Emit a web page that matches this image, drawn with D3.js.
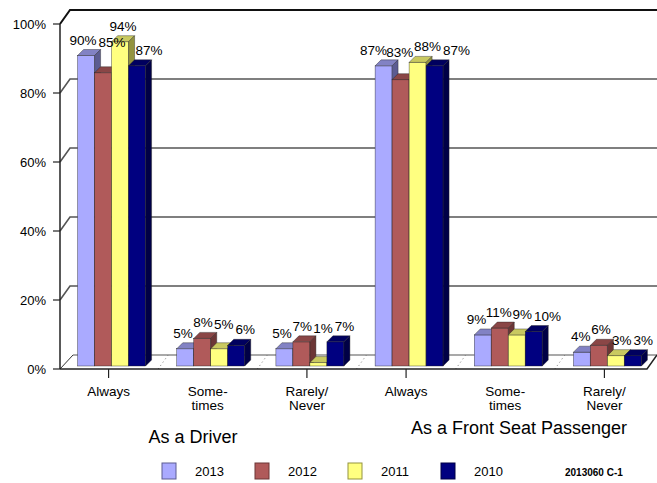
<!DOCTYPE html>
<html>
<head>
<meta charset="utf-8">
<script src="https://cdn.jsdelivr.net/npm/d3@7"></script>
<style>
body { margin: 0; background: #fff; }
text { font-family: "Liberation Sans", Arial, sans-serif; fill: #000; }
</style>
</head>
<body>
<script>
// data
var categories = [["Always"], ["Some-", "times"], ["Rarely/", "Never"],
                  ["Always"], ["Some-", "times"], ["Rarely/", "Never"]];
var groups = ["As a Driver", "As a Front Seat Passenger"];
var years = ["2013", "2012", "2011", "2010"];
var v2013 = [90, 5, 5, 87, 9, 4];
var v2012 = [85, 8, 7, 83, 11, 6];
var v2011 = [94, 5, 1, 88, 9, 3];
var v2010 = [87, 6, 7, 87, 10, 3];
var yTicks = [0, 20, 40, 60, 80, 100];
var note = "2013060 C-1";

var series = [v2013, v2012, v2011, v2010];
var front = ["#aaaaff", "#b05a5a", "#ffff80", "#000080"];
var topc  = ["#8282c4", "#8a4646", "#c9c960", "#00005f"];
var side  = ["#5c5c92", "#6c3636", "#93933f", "#000046"];

var W = 657, H = 483;
var svg = d3.select("body").append("svg").attr("width", W).attr("height", H);

var x0 = d3.scaleBand().domain(d3.range(categories.length)).range([59, 654]);
var x1 = d3.scaleBand().domain(years).range([0, 68]);
var y = d3.scaleLinear().domain([0, 100]).range([369, 24]);

var back = {dx: 10, dy: -14};   // wall depth
var bd = 6;                      // bar depth
var mid = 3;                     // bars sit half way into the floor

// back wall gridlines
var grid = svg.append("g");
yTicks.forEach(function(t) {
  var yy = y(t);
  if (t === 0) {
    grid.append("line").attr("x1", 60).attr("y1", yy).attr("x2", 60 + back.dx + 3).attr("y2", yy + back.dy)
      .attr("stroke", "#333").attr("stroke-width", 1);
    grid.append("line").attr("x1", 60 + back.dx + 3).attr("y1", yy + back.dy).attr("x2", 647 + back.dx).attr("y2", yy + back.dy)
      .attr("stroke", "#555").attr("stroke-width", 1.2);
    return;
  }
  grid.append("path")
    .attr("d", "M60," + yy + " L" + (60 + back.dx) + "," + (yy + back.dy) + " L" + W + "," + (yy + back.dy))
    .attr("fill", "none")
    .attr("stroke", t === 100 ? "#111" : "#555")
    .attr("stroke-width", t === 100 ? 2 : 1.6);
});

// dotted floor dividers
d3.range(1, categories.length).forEach(function(i) {
  var b = x0(i);
  grid.append("line").attr("x1", b).attr("y1", y(0)).attr("x2", b + back.dx).attr("y2", y(0) + back.dy)
    .attr("stroke", "#777").attr("stroke-width", 1).attr("stroke-dasharray", "1,3");
});

// floor front edge
svg.append("path")
  .attr("d", "M60," + y(0) + " L647," + y(0) + " L" + (647 + back.dx) + "," + (y(0) + back.dy))
  .attr("fill", "none").attr("stroke", "#222").attr("stroke-width", 1.5);

// y axis
var yAxis = svg.append("g");
yAxis.append("line").attr("x1", 60).attr("y1", y(100)).attr("x2", 60).attr("y2", y(0))
  .attr("stroke", "#222").attr("stroke-width", 1.5);
yTicks.forEach(function(t) {
  yAxis.append("line").attr("x1", 53).attr("x2", 60).attr("y1", y(t)).attr("y2", y(t))
    .attr("stroke", "#222").attr("stroke-width", 1.2);
  yAxis.append("text").attr("x", 46).attr("y", y(t)).attr("dy", "0.35em")
    .attr("text-anchor", "end").style("font-size", "13px").text(t + "%");
});

// bars
var bars = svg.append("g");
var labelsByCat = [];
categories.forEach(function(c, i) {
  var labs = [];
  years.forEach(function(yr, s) {
    var v = series[s][i];
    var bx = x0(i) + x0.bandwidth() / 2 - 34 + mid + x1(yr);
    var w = x1.bandwidth();
    var yt = y(v) - mid, yb = y(0) - mid;
    var g = bars.append("g");
    g.append("rect").attr("x", bx).attr("y", yt).attr("width", w).attr("height", yb - yt)
      .attr("fill", front[s]).attr("stroke", "#222").attr("stroke-width", 0.4);
    g.append("path")
      .attr("d", "M" + bx + "," + yt + " l" + bd + "," + (-bd) + " l" + w + ",0 l" + (-bd) + "," + bd + "Z")
      .attr("fill", topc[s]).attr("stroke", "#222").attr("stroke-width", 0.4);
    g.append("path")
      .attr("d", "M" + (bx + w) + "," + yt + " l" + bd + "," + (-bd) + " L" + (bx + w + bd) + "," + (yb - bd) + " L" + (bx + w) + "," + yb + "Z")
      .attr("fill", side[s]).attr("stroke", "#222").attr("stroke-width", 0.4);
    labs.push({v: v, cx: bx + w / 2 + bd / 2, base: yt - bd - 5, right: bx + w + bd, topFace: yt - bd});
  });
  labelsByCat.push(labs);
});

// value labels: keep clear of the bar on the left, then of each other
var labG = svg.append("g");
labelsByCat.forEach(function(labs) {
  labs.forEach(function(l) {
    l.node = labG.append("text").attr("text-anchor", "middle").style("font-size", "13.5px").text(l.v + "%");
    l.w = l.node.node().getComputedTextLength();
  });
  for (var k = 1; k < labs.length; k++) {
    var a = labs[k - 1], l = labs[k], nb = labs[k + 1];
    if (l.cx - l.w / 2 < a.right + 1 && l.base > a.topFace - 2) {
      if (nb && nb.topFace < l.base + 3) l.base = a.topFace - 3;
      else l.cx = a.right + 1 + l.w / 2;
    }
  }
  for (var pass = 0; pass < 3; pass++) {
    for (var j = 1; j < labs.length; j++) {
      var p = labs[j - 1], q = labs[j];
      if (Math.abs(p.base - q.base) < 11) {
        var need = (p.cx + p.w / 2 + 2) - (q.cx - q.w / 2);
        if (need > 0) { p.cx -= need / 2; q.cx += need / 2; }
      }
    }
  }
  labs.forEach(function(l) { l.node.attr("x", l.cx).attr("y", l.base); });
});

// x axis ticks and labels
var xAxis = svg.append("g");
categories.forEach(function(c, i) {
  var cx = x0(i) + x0.bandwidth() / 2;
  if (i % 3 !== 1) {
    xAxis.append("line").attr("x1", cx).attr("x2", cx).attr("y1", y(0)).attr("y2", y(0) + 9)
      .attr("stroke", "#222").attr("stroke-width", 1.2);
  }
  var t = xAxis.append("text").attr("x", cx).attr("y", 396).attr("text-anchor", "middle").style("font-size", "13.5px");
  c.forEach(function(line, j) {
    t.append("tspan").attr("x", cx).attr("dy", j ? 14 : 0).text(line);
  });
});

// group titles
svg.append("text").attr("x", 193).attr("y", 443).attr("text-anchor", "middle")
  .style("font-size", "18px").text(groups[0]);
svg.append("text").attr("x", 519).attr("y", 434).attr("text-anchor", "middle")
  .style("font-size", "18px").text(groups[1]);

// legend
var leg = svg.append("g");
years.forEach(function(yr, s) {
  var lx = 162 + s * 93;
  leg.append("rect").attr("x", lx).attr("y", 463).attr("width", 14).attr("height", 16)
    .attr("fill", front[s]).attr("stroke", side[s]).attr("stroke-width", 1);
  leg.append("text").attr("x", lx + 33).attr("y", 476).style("font-size", "13px").text(yr);
});
svg.append("text").attr("x", 565).attr("y", 476).style("font-size", "10px").style("font-weight", "bold").text(note);
</script>
</body>
</html>
